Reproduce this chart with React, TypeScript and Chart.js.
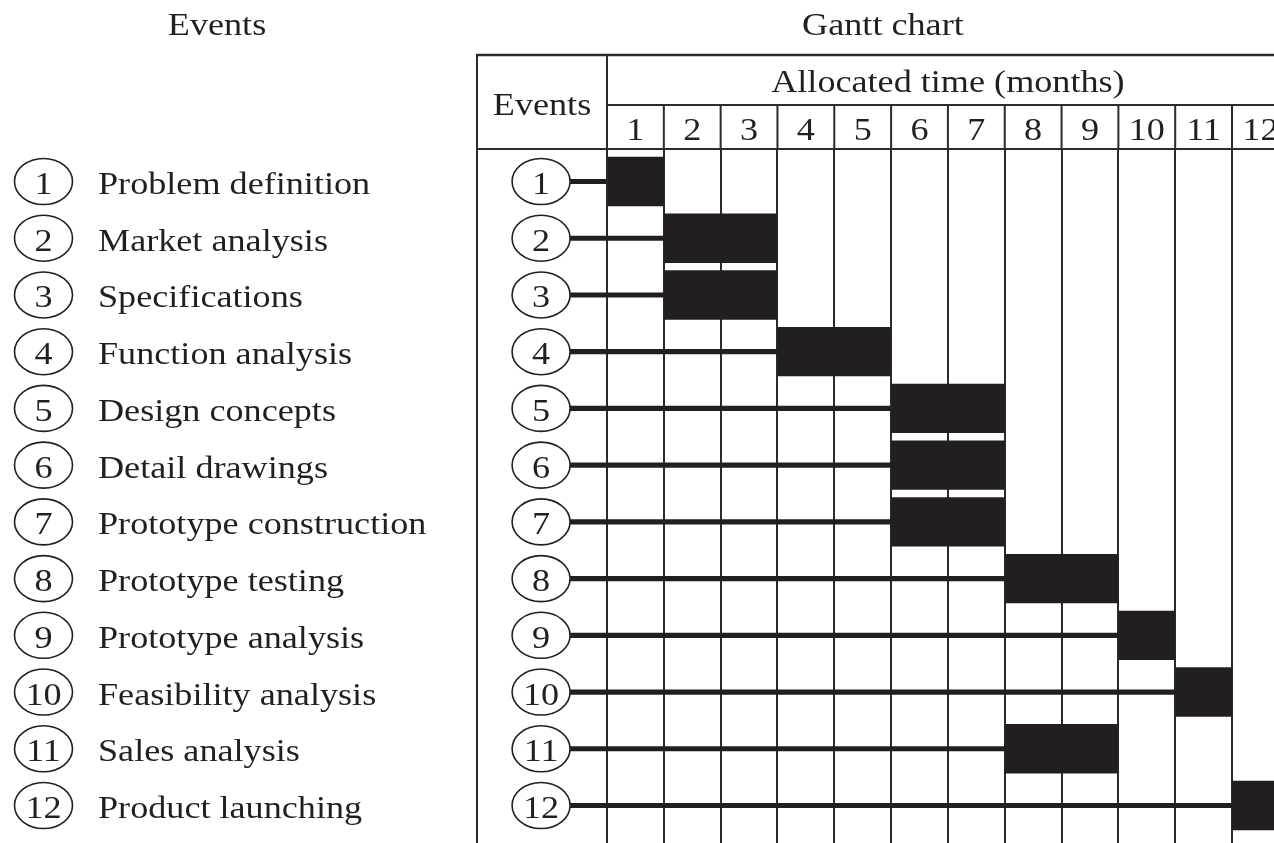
import React, { useEffect, useRef } from "react";
import { Chart, registerables } from "chart.js";

Chart.register(...registerables);

// ---- data ----
const eventNumbers = ["1", "2", "3", "4", "5", "6", "7", "8", "9", "10", "11", "12"];
const eventNames = [
  "Problem definition",
  "Market analysis",
  "Specifications",
  "Function analysis",
  "Design concepts",
  "Detail drawings",
  "Prototype construction",
  "Prototype testing",
  "Prototype analysis",
  "Feasibility analysis",
  "Sales analysis",
  "Product launching",
];
const startMonth = [1, 2, 2, 4, 6, 6, 6, 8, 10, 11, 8, 12];
const endMonth = [1, 3, 3, 5, 7, 7, 7, 9, 10, 11, 9, 12];
const monthLabels = ["1", "2", "3", "4", "5", "6", "7", "8", "9", "10", "11", "12"];

const listTitle = "Events";
const chartTitle = "Gantt chart";
const eventsHeader = "Events";
const timeHeader = "Allocated time (months)";

// ---- style / layout constants ----
const W = 1274;
const H = 843;
const INK = "#231f20";
const LINE = "#2b2b2b";
const FONT = '32px "Liberation Serif", "Times New Roman", serif';
const SX = 1.13; // horizontal text stretch of the original
const EVENT_COL_CENTER = -1.16; // centre of the "Events" column, in month units
const CONNECTOR_FROM = -1.16;
const Y_MIN = 0.427;
const Y_MAX = 12.661;

function drawText(ctx: CanvasRenderingContext2D, text: string, x: number, y: number, align: CanvasTextAlign) {
  ctx.save();
  ctx.translate(x, y);
  ctx.scale(SX, 1);
  ctx.textAlign = align;
  ctx.textBaseline = "alphabetic";
  ctx.fillText(text, 0, 0);
  ctx.restore();
}

function drawEllipse(ctx: CanvasRenderingContext2D, cx: number, cy: number, fill: boolean) {
  ctx.save();
  ctx.beginPath();
  ctx.ellipse(cx, cy, 29, 23, 0, 0, Math.PI * 2);
  if (fill) {
    ctx.fillStyle = "#ffffff";
    ctx.fill();
  }
  ctx.lineWidth = 1.6;
  ctx.strokeStyle = INK;
  ctx.stroke();
  ctx.restore();
}

const decorPlugin = {
  id: "ganttDecor",
  afterDatasetsDraw(chart: any) {
    const ctx: CanvasRenderingContext2D = chart.ctx;
    const xs = chart.scales.x;
    const ys = chart.scales.y;
    const area = chart.chartArea;
    const tableLeft = area.left;
    const tableRight = xs.getPixelForValue(12);
    const colSep = xs.getPixelForValue(0);
    const topY = 55;
    const midY = 105;
    const headBottom = area.top;

    ctx.save();
    ctx.fillStyle = INK;
    ctx.font = FONT;

    // titles
    drawText(ctx, listTitle, 217, 35, "center");
    drawText(ctx, chartTitle, (tableLeft + tableRight) / 2, 35, "center");

    // header lines
    ctx.strokeStyle = LINE;
    ctx.lineWidth = 2.5;
    ctx.beginPath();
    ctx.moveTo(tableLeft - 1, topY);
    ctx.lineTo(W, topY);
    ctx.stroke();
    ctx.lineWidth = 2;
    ctx.beginPath();
    ctx.moveTo(colSep, midY);
    ctx.lineTo(W, midY);
    ctx.moveTo(tableLeft - 1, headBottom);
    ctx.lineTo(W, headBottom);
    ctx.moveTo(tableLeft, topY);
    ctx.lineTo(tableLeft, headBottom);
    ctx.moveTo(colSep, topY);
    ctx.lineTo(colSep, headBottom);
    for (let m = 1; m < monthLabels.length; m++) {
      const px = xs.getPixelForValue(m);
      ctx.moveTo(px, midY);
      ctx.lineTo(px, headBottom);
    }
    ctx.stroke();

    // header texts
    drawText(ctx, eventsHeader, (tableLeft + colSep) / 2, 115, "center");
    drawText(ctx, timeHeader, xs.getPixelForValue(6), 92, "center");
    monthLabels.forEach((lab, i) => {
      drawText(ctx, lab, xs.getPixelForValue(i + 0.5), 140, "center");
    });

    // event circles and names
    const circleX = xs.getPixelForValue(EVENT_COL_CENTER);
    eventNumbers.forEach((num, i) => {
      const cy = ys.getPixelForValue(i + 1);
      // left list
      drawEllipse(ctx, 43.5, cy, false);
      ctx.fillStyle = INK;
      drawText(ctx, num, 43.5, cy + 12.5, "center");
      drawText(ctx, eventNames[i], 98, cy + 12.5, "left");
      // events column in the table
      drawEllipse(ctx, circleX, cy, true);
      ctx.fillStyle = INK;
      drawText(ctx, num, circleX, cy + 12.5, "center");
    });
    ctx.restore();
  },
};

export default function App() {
  const canvasRef = useRef<HTMLCanvasElement | null>(null);

  useEffect(() => {
    const canvas = canvasRef.current;
    if (!canvas) return;
    const barData = eventNumbers.map((_, i) => ({ y: i + 1, x: [startMonth[i] - 1, endMonth[i]] }));
    const connectorData = eventNumbers.map((_, i) => ({ y: i + 1, x: [CONNECTOR_FROM, startMonth[i] - 1] }));

    const chart = new Chart(canvas, {
      type: "bar",
      data: {
        datasets: [
          {
            label: "Connector",
            data: connectorData as any,
            backgroundColor: INK,
            barThickness: 4.5,
            grouped: false,
            borderWidth: 0,
          } as any,
          {
            label: "Allocated time",
            data: barData as any,
            backgroundColor: INK,
            barPercentage: 0.87,
            categoryPercentage: 1,
            grouped: false,
            borderWidth: 0,
          } as any,
        ],
      },
      options: {
        indexAxis: "y",
        responsive: false,
        animation: false,
        events: [],
        layout: { padding: { left: 477, top: 149, right: 0, bottom: 0 } },
        plugins: {
          legend: { display: false },
          tooltip: { enabled: false },
          title: { display: false },
        },
        scales: {
          x: {
            type: "linear",
            position: "bottom",
            min: -2.288,
            max: 11.739,
            offset: false,
            afterFit: (s: any) => {
              s.height = 0;
            },
            afterBuildTicks: (s: any) => {
              s.ticks = monthLabels.map((_, i) => ({ value: i }));
            },
            ticks: { display: false },
            grid: { display: true, color: LINE, lineWidth: 2, drawTicks: false, offset: false },
            border: { display: false },
          },
          y: {
            type: "linear",
            position: "left",
            reverse: true,
            min: Y_MIN,
            max: Y_MAX,
            offset: false,
            afterFit: (s: any) => {
              s.width = 0;
            },
            afterDataLimits: (s: any) => {
              s.min = Y_MIN;
              s.max = Y_MAX;
            },
            afterBuildTicks: (s: any) => {
              s.ticks = eventNumbers.map((_, i) => ({ value: i + 1 }));
            },
            ticks: { display: false },
            grid: { display: false, drawTicks: false, offset: false },
            border: { display: true, color: LINE, width: 2 },
          },
        },
      } as any,
      plugins: [decorPlugin],
    });
    return () => chart.destroy();
  }, []);

  return (
    <div style={{ position: "fixed", left: 0, top: 0, width: W, height: H, background: "#ffffff" }}>
      <canvas ref={canvasRef} width={W} height={H} style={{ display: "block" }} />
    </div>
  );
}
